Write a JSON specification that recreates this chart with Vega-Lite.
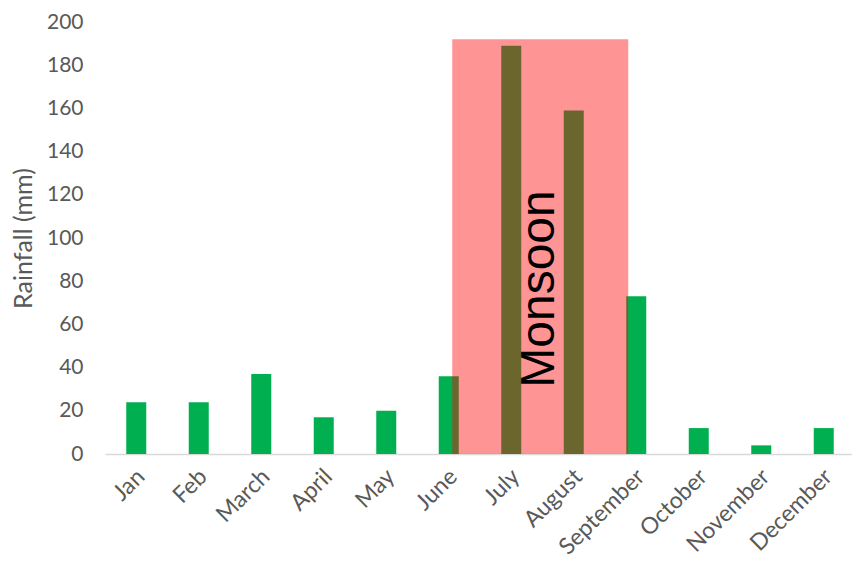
{
  "$schema": "https://vega.github.io/schema/vega-lite/v6.json",
  "autosize": {"type": "none"},
  "padding": {"left": 105, "top": 22, "right": 0, "bottom": 109},
  "width": 750,
  "height": 432,
  "background": "white",
  "config": {
    "view": {"stroke": null},
    "font": "Lato",
    "axis": {"labelFont": "Lato", "titleFont": "Lato", "labelColor": "#595959", "titleColor": "#595959", "grid": false}
  },
  "layer": [
    {
      "data": {"values": [
        {"month": "Jan", "rain": 24},
        {"month": "Feb", "rain": 24},
        {"month": "March", "rain": 37},
        {"month": "April", "rain": 17},
        {"month": "May", "rain": 20},
        {"month": "June", "rain": 36},
        {"month": "July", "rain": 189},
        {"month": "August", "rain": 159},
        {"month": "September", "rain": 73},
        {"month": "October", "rain": 12},
        {"month": "November", "rain": 4},
        {"month": "December", "rain": 12}
      ]},
      "mark": {"type": "bar", "color": "#00B050"},
      "encoding": {
        "x": {
          "field": "month", "type": "nominal", "sort": null,
          "scale": {"paddingInner": 0.68, "paddingOuter": 0.34},
          "axis": {"title": null, "labelAngle": -45, "labelFontSize": 23, "ticks": false, "labelPadding": 11, "labelOffset": -3, "domainColor": "#D9D9D9", "domainWidth": 1.5}
        },
        "y": {
          "field": "rain", "type": "quantitative",
          "scale": {"domain": [0, 200]},
          "axis": {"title": "Rainfall (mm)", "values": [0, 20, 40, 60, 80, 100, 120, 140, 160, 180, 200], "domain": false, "ticks": false, "labelFontSize": 21, "labelPadding": 22, "titleFontSize": 25, "titleFontWeight": "normal", "titlePadding": 10}
        }
      }
    },
    {
      "data": {"values": [{"x1": 5.556, "x2": 8.372, "top": 192, "bottom": 0}]},
      "mark": {"type": "rect", "color": "#FF0000", "opacity": 0.42},
      "encoding": {
        "x": {"field": "x1", "type": "quantitative", "scale": {"domain": [0, 12]}, "axis": null},
        "x2": {"field": "x2"},
        "y": {"field": "top", "type": "quantitative", "title": "Rainfall (mm)"},
        "y2": {"field": "bottom"}
      }
    },
    {
      "data": {"values": [{"x": 6.964, "y": 76.4, "label": "Monsoon"}]},
      "mark": {"type": "text", "angle": 270, "fontSize": 48, "font": "Liberation Sans", "color": "black", "align": "center", "baseline": "middle"},
      "encoding": {
        "x": {"field": "x", "type": "quantitative", "scale": {"domain": [0, 12]}, "axis": null},
        "y": {"field": "y", "type": "quantitative", "title": "Rainfall (mm)"},
        "text": {"field": "label"}
      }
    }
  ],
  "resolve": {"scale": {"x": "independent"}, "axis": {"x": "independent"}}
}
